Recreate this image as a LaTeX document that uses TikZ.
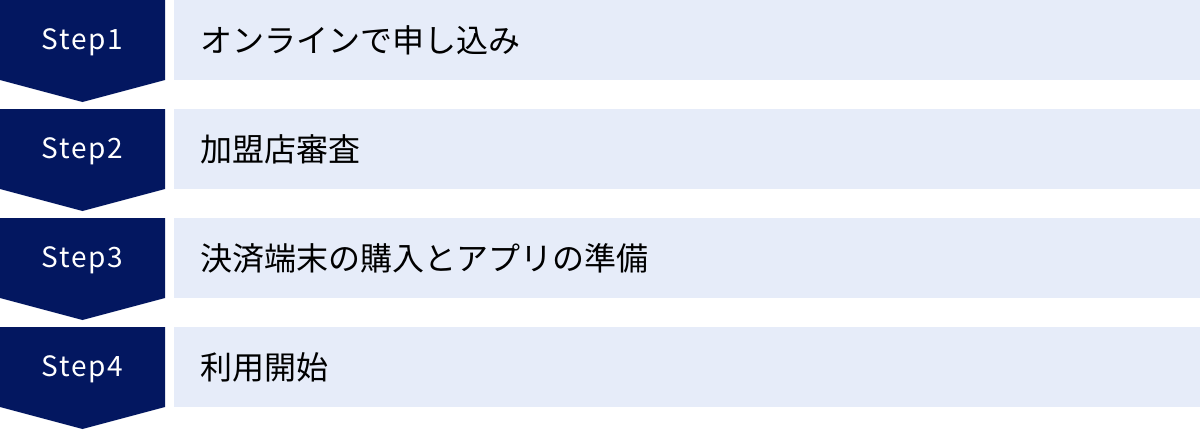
\documentclass[tikz,border=0pt]{standalone}
\usepackage{fontspec}
\newfontfamily\jpfont{Noto Sans CJK JP}
\newfontfamily\stepfont[LetterSpace=6]{Noto Sans CJK JP}
\definecolor{stepnavy}{RGB}{3,23,96}
\definecolor{rowlav}{RGB}{230,236,249}
\tikzset{
  steplabel/.style={text=white, font=\stepfont\fontsize{28}{32}\selectfont, inner sep=0pt},
  rowbox/.style={fill=rowlav, anchor=north west, minimum width=1026pt, minimum height=80pt,
    text width=974pt, inner xsep=26pt, inner ysep=0pt, align=left,
    font=\jpfont\fontsize{32}{38}\selectfont, text=black}
}
\begin{document}
\begin{tikzpicture}[x=1pt, y=1pt]
                \useasboundingbox (0, 0) rectangle (1200, -429);
                \fill [stepnavy] (0, 0) -- (165, 0) -- (165, -80) -- (82.5, -102) -- (0, -80) -- cycle;
                \node [steplabel] (s1) at (82.5, -42) {Step1};
                \node [rowbox] (r1) at (174, 0) {オンラインで申し込み};
                \fill [stepnavy] (0, -109) -- (165, -109) -- (165, -189) -- (82.5, -211) -- (0, -189) -- cycle;
                \node [steplabel] (s2) at (82.5, -151) {Step2};
                \node [rowbox] (r2) at (174, -109) {加盟店審査};
                \fill [stepnavy] (0, -218) -- (165, -218) -- (165, -298) -- (82.5, -320) -- (0, -298) -- cycle;
                \node [steplabel] (s3) at (82.5, -260) {Step3};
                \node [rowbox] (r3) at (174, -218) {決済端末の購入とアプリの準備};
                \fill [stepnavy] (0, -327) -- (165, -327) -- (165, -407) -- (82.5, -429) -- (0, -407) -- cycle;
                \node [steplabel] (s4) at (82.5, -369) {Step4};
                \node [rowbox] (r4) at (174, -327) {利用開始};
            \end{tikzpicture}
\end{document}
